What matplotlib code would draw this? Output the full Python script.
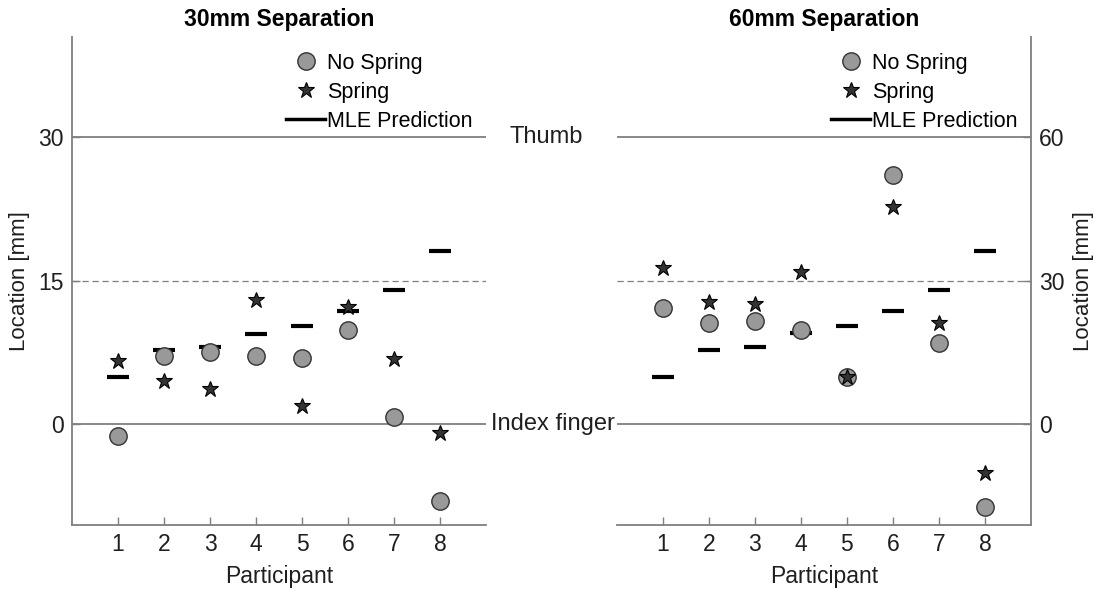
import numpy as np
import matplotlib
matplotlib.use("Agg")
import matplotlib.pyplot as plt
from matplotlib.lines import Line2D

plt.rcParams['font.family'] = ['Liberation Sans', 'DejaVu Sans']

participants = [1, 2, 3, 4, 5, 6, 7, 8]

# 30 mm separation
no_spring_30 = [-1.3, 7.1, 7.5, 7.1, 6.9, 9.8, 0.7, -8.1]
spring_30 = [6.6, 4.5, 3.6, 13.0, 1.9, 12.2, 6.8, -1.0]
mle_30 = [4.85, 7.7, 8.0, 9.45, 10.25, 11.85, 14.05, 18.05]

# 60 mm separation
no_spring_60 = [24.3, 21.2, 21.6, 19.6, 9.75, 52.2, 17.0, -17.5]
spring_60 = [32.6, 25.5, 25.0, 31.8, 9.75, 45.4, 21.0, -10.4]
mle_60 = [9.75, 15.45, 16.05, 19.0, 20.5, 23.7, 28.1, 36.1]

titles = ['30mm Separation', '60mm Separation']

fig = plt.figure(figsize=(10.99, 5.94), dpi=100)
ax1 = fig.add_axes([0.0655, 0.1162, 0.3767, 0.8215])
ax2 = fig.add_axes([0.5611, 0.1162, 0.3770, 0.8215])

spine_c = '#7f7f7f'
grey = '#999999'
star_c = '#333333'
txt_c = '#1f1f1f'

panels = [
    (ax1, no_spring_30, spring_30, mle_30, 30, 'left'),
    (ax2, no_spring_60, spring_60, mle_60, 60, 'right'),
]

for i, (ax, ns, sp, mle, sep, side) in enumerate(panels):
    x = np.array(participants)
    ax.axhline(sep, color=spine_c, lw=1.3, zorder=1)
    ax.axhline(0, color=spine_c, lw=1.3, zorder=1)
    ax.axhline(sep / 2, color=spine_c, lw=0.9, ls=(0, (5, 3)), zorder=1)

    ax.hlines(mle, x - 0.24, x + 0.24, color='black', lw=3, zorder=2)
    ax.plot(x, ns, 'o', ms=12.5, mfc=grey, mec='#333333', mew=1.0, zorder=3)
    ax.plot(x, sp, '*', ms=12, mfc=star_c, mec='black', mew=0.8, zorder=4)

    ax.set_xlim(0, 9)
    ax.set_ylim(-10.6 * sep / 30, 40.5 * sep / 30)
    ax.set_xticks(participants)
    ax.set_yticks([0, sep / 2, sep])
    ax.set_yticklabels(['0', str(sep // 2), str(sep)])
    ax.set_xlabel('Participant', fontsize=16.5, color=txt_c, labelpad=6)
    ax.set_ylabel('Location [mm]', fontsize=16, color=txt_c, labelpad=6)
    ax.set_title(titles[i], fontsize=16.5, fontweight='bold', pad=8)

    ax.spines['top'].set_visible(False)
    if side == 'left':
        ax.spines['right'].set_visible(False)
    else:
        ax.spines['left'].set_visible(False)
        ax.yaxis.tick_right()
        ax.yaxis.set_label_position('right')
    for s in ax.spines.values():
        s.set_color(spine_c)
        s.set_linewidth(1.3)
    ax.tick_params(direction='in', length=6, width=1.0, color=spine_c,
                   labelsize=16.5, labelcolor=txt_c, pad=6)

    handles = [
        Line2D([], [], ls='none', marker='o', ms=12.5, mfc=grey, mec='#333333', mew=1.0),
        Line2D([], [], ls='none', marker='*', ms=12, mfc=star_c, mec='black', mew=0.8),
        Line2D([], [], color='black', lw=2.5),
    ]
    ax.legend(handles, ['No Spring', 'Spring', 'MLE Prediction'],
              loc='upper right', bbox_to_anchor=(0.968, 0.968), frameon=False,
              fontsize=15.5, handlelength=1.8, handletextpad=0.1,
              labelspacing=0.38, borderaxespad=0.0, borderpad=0.0,
              prop={'size': 15.5})

fig.text(546 / 1099, 1 - 137 / 594, 'Thumb', ha='center', va='center',
         fontsize=17, color=txt_c)
fig.text(553 / 1099, 1 - 424 / 594, 'Index finger', ha='center', va='center',
         fontsize=17, color=txt_c)

fig.savefig('out.png', dpi=100)
